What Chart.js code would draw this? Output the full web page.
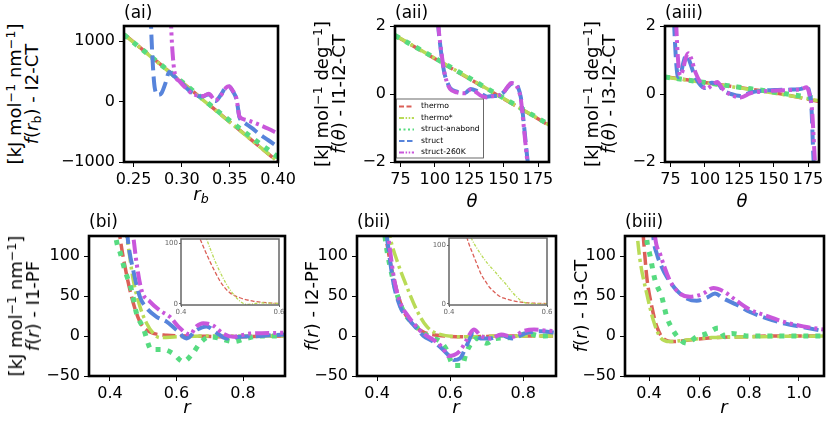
<!DOCTYPE html>
<html>
<head>
<meta charset="utf-8">
<script src="https://cdn.jsdelivr.net/npm/chart.js@4"></script>
<style>
body { margin:0; width:831px; height:421px; background:#fff; position:relative; overflow:hidden; font-family:'DejaVu Sans', sans-serif; }
canvas { position:absolute; }
.t { position:absolute; font-size:17px; line-height:17px; white-space:nowrap; color:#000; z-index:5; }
.ylab { font-size:18px; line-height:17px; transform: translate(-50%,-50%) rotate(-90deg); text-align:center; }
.xlab { font-size:18px; line-height:18px; transform: translateX(-50%); }
sup { font-size:0.7em; vertical-align:0.45em; line-height:0; }
sub { font-size:0.7em; vertical-align:-0.25em; line-height:0; }
</style>
</head>
<body>
<div class="t" style="left:124px;top:4px">(ai)</div>
<div class="t" style="left:395px;top:4px">(aii)</div>
<div class="t" style="left:665px;top:4px">(aiii)</div>
<div class="t" style="left:89px;top:213px">(bi)</div>
<div class="t" style="left:357px;top:213px">(bii)</div>
<div class="t" style="left:625px;top:213px">(biii)</div>

<div class="t ylab" style="left:23px;top:94px">[kJ mol<sup>−1</sup> nm<sup>−1</sup>]<br><i>f</i>(<i>r</i><sub>b</sub>) - I2-CT</div>
<div class="t ylab" style="left:330px;top:94px">[kJ mol<sup>−1</sup> deg<sup>−1</sup>]<br><i>f</i>(<i>θ</i>) - I1-I2-CT</div>
<div class="t ylab" style="left:600px;top:94px">[kJ mol<sup>−1</sup> deg<sup>−1</sup>]<br><i>f</i>(<i>θ</i>) - I3-I2-CT</div>
<div class="t ylab" style="left:24px;top:306px">[kJ mol<sup>−1</sup> nm<sup>−1</sup>]<br><i>f</i>(<i>r</i>) - I1-PF</div>
<div class="t ylab" style="left:311px;top:306px"><i>f</i>(<i>r</i>) - I2-PF</div>
<div class="t ylab" style="left:580px;top:306px"><i>f</i>(<i>r</i>) - I3-CT</div>

<div class="t xlab" style="left:201px;top:185px"><i>r<sub>b</sub></i></div>
<div class="t xlab" style="left:472px;top:192px"><i>θ</i></div>
<div class="t xlab" style="left:742px;top:192px"><i>θ</i></div>
<div class="t xlab" style="left:187px;top:398px"><i>r</i></div>
<div class="t xlab" style="left:456px;top:398px"><i>r</i></div>
<div class="t xlab" style="left:724px;top:398px"><i>r</i></div>

<script>
// ---- (ai) f(r_b) I2-CT ----
const aiX_th = [0.24, 0.30, 0.35, 0.40];
const aiY_th = [1115, 322, -339, -1000];
const aiY_ths = [1110, 318, -342, -996];
const aiY_ana = [1105, 330, -318, -920];
const aiX_st = [0.266, 0.268, 0.270, 0.272, 0.2755, 0.279, 0.283, 0.287, 0.292, 0.298, 0.304, 0.310, 0.317, 0.322, 0.328, 0.335, 0.341, 0.346, 0.349, 0.353, 0.357, 0.360, 0.366, 0.373, 0.380, 0.390, 0.400];
const aiY_st = [2500, 1300, 600, 220, 110, 140, 300, 490, 420, 340, 240, 150, 90, 85, 120, 10, 120, 240, 250, 170, 30, -260, -360, -440, -530, -640, -750];
const aiX_k = [0.287, 0.289, 0.291, 0.293, 0.298, 0.304, 0.310, 0.317, 0.322, 0.328, 0.335, 0.341, 0.346, 0.349, 0.353, 0.357, 0.360, 0.366, 0.373, 0.380, 0.390, 0.400];
const aiY_k = [2500, 1250, 700, 450, 330, 225, 140, 95, 90, 130, 20, 110, 230, 255, 180, 40, -250, -300, -335, -380, -450, -530];

// ---- (aii) f(theta) I1-I2-CT ----
const aiiX_th = [71, 100, 125, 150, 183];
const aiiY_th = [1.72, 1.04, 0.45, -0.14, -0.92];
const aiiY_ths = [1.73, 1.05, 0.46, -0.13, -0.91];
const aiiY_ana = [1.72, 1.06, 0.47, -0.12, -0.90];
const aiiX_st = [100, 102.5, 104, 105.5, 107, 108.5, 111, 116, 122, 126, 130, 134, 138, 142, 146, 150, 153, 155.5, 158, 160.5, 162.5, 164, 165.5, 167, 169];
const aiiY_st = [4, 2.0, 1.4, 0.95, 0.6, 0.4, 0.18, 0.07, 0.03, 0.15, 0.1, 0.0, -0.08, -0.06, -0.04, 0.05, 0.2, 0.3, 0.33, 0.2, -0.1, -0.6, -1.2, -1.8, -2.5];
const aiiY_k = [4, 2.05, 1.45, 1.0, 0.62, 0.38, 0.15, 0.05, 0.02, 0.13, 0.05, -0.06, -0.1, -0.07, -0.05, 0.05, 0.22, 0.32, 0.3, 0.15, -0.15, -0.7, -1.3, -1.9, -2.6];

// ---- (aiii) f(theta) I3-I2-CT ----
const aiiiX_th = [71, 100, 125, 150, 183];
const aiiiY_th = [0.51, 0.34, 0.19, 0.04, -0.22];
const aiiiY_ths = [0.50, 0.33, 0.18, 0.03, -0.20];
const aiiiY_ana = [0.50, 0.34, 0.20, 0.06, -0.14];
const aiiiX_st = [76, 77.5, 79, 80.5, 82.5, 84.5, 86.5, 89, 92, 96, 100, 105, 109, 113, 119, 126, 133, 143, 153, 163, 170, 174, 176, 177.5, 179, 181];
const aiiiY_st = [4, 2.2, 1.0, 0.5, 0.6, 0.95, 1.15, 0.95, 0.6, 0.3, 0.18, 0.33, 0.32, 0.12, 0.0, -0.06, 0.04, 0.1, 0.12, 0.13, 0.15, 0.22, 0.05, -0.4, -1.9, -3];
const aiiiX_k = [77.5, 79, 80.5, 82, 84, 86, 88, 90, 93, 97, 101, 105, 109, 113, 119, 126, 133, 143, 153, 163, 170, 174, 176, 178, 179.5, 181.5];
const aiiiY_k = [4, 2.2, 1.0, 0.55, 0.7, 1.05, 1.2, 1.05, 0.65, 0.32, 0.15, 0.25, 0.35, 0.15, -0.03, -0.1, 0.02, 0.08, 0.1, 0.12, 0.14, 0.2, 0.0, -0.5, -1.6, -3];

// ---- (bi) f(r) I1-PF ----
const biX_th = [0.42, 0.43, 0.445, 0.465, 0.48, 0.495, 0.52, 0.571, 0.65, 0.75, 0.926];
const biY_th = [160, 124, 87, 49, 28, 14, 5, 1, 0, -1, 0];
const biX_ths = [0.445, 0.455, 0.47, 0.49, 0.51, 0.53, 0.55, 0.60, 0.70, 0.926];
const biY_ths = [140, 112, 70, 37, 16, 3.5, -2, -1, 0, 0];
const biX_ana = [0.41, 0.42, 0.43, 0.445, 0.465, 0.48, 0.50, 0.525, 0.56, 0.59, 0.62, 0.65, 0.67, 0.70, 0.73, 0.77, 0.81, 0.85, 0.926];
const biY_ana = [150, 118, 105, 82, 57, 28, 10, -17, -17, -22, -32, -21, -9, -1, -3, -7, -3, 0, 0];
const biX_st = [0.445, 0.455, 0.47, 0.49, 0.51, 0.54, 0.57, 0.60, 0.63, 0.66, 0.69, 0.72, 0.75, 0.79, 0.85, 0.926];
const biY_st = [160, 116, 82, 49, 35, 24, 18, 7.5, -3, 7.5, 12, 4, -3, -1, 0, 2];
const biX_k = [0.46, 0.47, 0.48, 0.495, 0.52, 0.55, 0.58, 0.61, 0.64, 0.66, 0.68, 0.71, 0.74, 0.77, 0.82, 0.926];
const biY_k = [160, 125, 91, 57, 43, 32, 24, 10, 2, 12, 16, 13, 3, -1, 3, 4];
// inset of (bi)
const biInX_th = [0.43, 0.439, 0.45, 0.459, 0.47, 0.48, 0.49, 0.50, 0.52, 0.547, 0.58, 0.60];
const biInY_th = [125, 107, 86, 70, 52, 37, 26, 18, 10, 4.4, 1.5, 0.5];
const biInX_ths = [0.445, 0.451, 0.462, 0.473, 0.483, 0.493, 0.503, 0.512, 0.524, 0.534, 0.547, 0.56, 0.58, 0.60];
const biInY_ths = [125, 110, 86, 64, 47, 32, 20, 11, 2, -1, 0, 1.5, 1, 0.3];

// ---- (bii) f(r) I2-PF ----
const biiX_th = [0.415, 0.424, 0.435, 0.454, 0.472, 0.495, 0.527, 0.565, 0.65, 0.75, 0.89];
const biiY_th = [160, 125, 95, 57, 32, 16, 5, 1, -1, 0, 0];
const biiX_ths = [0.43, 0.435, 0.454, 0.481, 0.509, 0.536, 0.565, 0.65, 0.75, 0.89];
const biiY_ths = [140, 125, 95, 62, 32, 12, 3, -1, 0, 0];
const biiX_ana = [0.418, 0.424, 0.435, 0.45, 0.465, 0.48, 0.50, 0.52, 0.535, 0.555, 0.573, 0.59, 0.61, 0.632, 0.645, 0.66, 0.673, 0.70, 0.725, 0.77, 0.81, 0.85, 0.89];
const biiY_ana = [140, 116, 88, 60, 38, 25, 15, 6, 1, -3, -7, -17, -37, -37, -20, -8, -3, -9, -3, -2, 3, 0, 1];
const biiX_st = [0.42, 0.428, 0.445, 0.463, 0.481, 0.499, 0.515, 0.527, 0.554, 0.58, 0.60, 0.61, 0.627, 0.645, 0.664, 0.683, 0.71, 0.74, 0.77, 0.81, 0.85, 0.89];
const biiY_st = [150, 120, 66, 37, 24, 14, 6, 0, -7, -17, -26, -30, -28, -12, 3, -3, -3, 1, -3, 4, 6, 4];
const biiX_k = [0.425, 0.432, 0.448, 0.465, 0.483, 0.50, 0.515, 0.53, 0.555, 0.58, 0.595, 0.61, 0.628, 0.645, 0.665, 0.685, 0.71, 0.74, 0.77, 0.80, 0.83, 0.86, 0.89];
const biiY_k = [150, 120, 68, 40, 26, 16, 8, 2, -5, -15, -25, -24, -18, -5, 8, 0, -3, 2, -1, 6, 8, 7, 6];
// inset of (bii)
const biiInX_th = [0.433, 0.439, 0.449, 0.458, 0.466, 0.475, 0.483, 0.493, 0.503, 0.515, 0.527, 0.55, 0.578, 0.60];
const biiInY_th = [125, 107, 85, 66, 50, 38, 28, 20, 13, 9, 6, 2.6, 1, 0.5];
const biiInX_ths = [0.44, 0.446, 0.458, 0.47, 0.482, 0.493, 0.505, 0.517, 0.527, 0.537, 0.553, 0.578, 0.60];
const biiInY_ths = [125, 112, 94, 79, 66, 56, 44, 33, 22, 13, 2.6, 0.3, 0];

// ---- (biii) f(r) I3-CT ----
const biiiX_th = [0.37, 0.377, 0.391, 0.411, 0.431, 0.457, 0.497, 0.56, 0.66, 0.78, 0.90, 1.10];
const biiiY_th = [150, 125, 74, 37, 12, -3, -7, -5, -2, -1, 0, 0];
const biiiX_ths = [0.345, 0.353, 0.364, 0.391, 0.417, 0.444, 0.484, 0.55, 0.65, 0.80, 1.10];
const biiiY_ths = [150, 125, 95, 53, 20, -1, -7, -5, -2, -1, 0];
const biiiX_ana = [0.385, 0.391, 0.404, 0.424, 0.451, 0.471, 0.491, 0.517, 0.551, 0.591, 0.631, 0.677, 0.704, 0.731, 0.80, 1.10];
const biiiY_ana = [150, 121, 101, 70, 49, 24, 10, -2, -9, -1, 3, 10, -1, 3, 0, 0];
const biiiX_st = [0.41, 0.417, 0.431, 0.45, 0.471, 0.511, 0.551, 0.591, 0.631, 0.664, 0.697, 0.751, 0.804, 0.871, 0.937, 1.017, 1.10];
const biiiY_st = [165, 125, 103, 87, 74, 57, 47, 44, 48, 53, 47, 39, 30, 22, 16, 11, 6];
const biiiX_k = [0.415, 0.424, 0.444, 0.484, 0.524, 0.564, 0.617, 0.657, 0.697, 0.751, 0.804, 0.871, 0.937, 1.017, 1.10];
const biiiY_k = [165, 125, 103, 69, 53, 49, 53, 60, 56, 44, 33, 25, 18, 12, 8];

// tick values and labels
const aiXTicks = [0.25, 0.30, 0.35, 0.40];
const aiXLabels = ['0.25', '0.30', '0.35', '0.40'];
const aiYTicks = [-1000, 0, 1000];
const aiYLabels = ['−1000', '0', '1000'];
const thetaTicks = [75, 100, 125, 150, 175];
const thetaLabels = ['75', '100', '125', '150', '175'];
const degYTicks = [-2, 0, 2];
const degYLabels = ['−2', '0', '2'];
const rTicks = [0.4, 0.6, 0.8];
const rLabels = ['0.4', '0.6', '0.8'];
const r3Ticks = [0.4, 0.6, 0.8, 1.0];
const r3Labels = ['0.4', '0.6', '0.8', '1.0'];
const fYTicks = [-50, 0, 50, 100];
const fYLabels = ['−50', '0', '50', '100'];
const inXTicks = [0.4, 0.6];
const inXLabels = ['0.4', '0.6'];
const inYTicks = [0, 100];
const inYLabels = ['0', '100'];

const FONT = "'DejaVu Sans', sans-serif";
const STYLE = [
  {label: 'thermo', color: '#db5f57', width: 3.5, dash: [13, 5], lgDash: [5, 2.5]},
  {label: 'thermo*', color: '#b9db57', width: 3.5, dash: [14, 4, 3, 4], lgDash: [5, 1.6, 1.5, 1.6, 1.5, 1.6]},
  {label: 'struct-anabond', color: '#57db80', width: 5, dash: [5, 7], lgDash: [2, 2.5]},
  {label: 'struct', color: '#5784db', width: 4, dash: [15, 6], lgDash: [5.5, 2.5]},
  {label: 'struct-260K', color: '#c957db', width: 4, dash: [14, 4, 3, 4, 3, 4], lgDash: [5, 1.6, 1.5, 1.6, 1.5, 1.6]},
];

function pts(xs, ys) {
  return xs.map((x, i) => ({x: x, y: ys[i]}));
}

// box around the plot area, like matplotlib spines
const framePlugin = {
  id: 'frame',
  beforeDatasetsDraw(chart, args, opts) {
    if (!opts.fill) return;
    const a = chart.chartArea, ctx = chart.ctx;
    ctx.save();
    ctx.fillStyle = opts.fill;
    ctx.fillRect(a.left, a.top, a.right - a.left, a.bottom - a.top);
    ctx.restore();
  },
  afterDraw(chart, args, opts) {
    const a = chart.chartArea, ctx = chart.ctx;
    ctx.save();
    ctx.strokeStyle = opts.color || '#000';
    ctx.lineWidth = opts.width || 2.6;
    ctx.strokeRect(a.left, a.top, a.right - a.left, a.bottom - a.top);
    ctx.restore();
  }
};

// legend drawn inside the plot area of (aii)
const lineLegend = {
  id: 'lineLegend',
  afterDraw(chart, args, opts) {
    if (!opts.show) return;
    const a = chart.chartArea, ctx = chart.ctx;
    ctx.save();
    ctx.fillStyle = 'rgba(255,255,255,0.85)';
    ctx.fillRect(a.left + 1.5, a.top + 73, 87, 59);
    ctx.strokeStyle = '#444';
    ctx.lineWidth = 0.8;
    ctx.strokeRect(a.left + 1.5, a.top + 73, 87, 59);
    ctx.font = '7.7px ' + FONT;
    ctx.textBaseline = 'middle';
    STYLE.forEach((s, i) => {
      const y = a.top + 80.5 + i * 11.5;
      ctx.strokeStyle = s.color;
      ctx.lineWidth = 1.8;
      ctx.setLineDash(s.lgDash);
      ctx.beginPath();
      ctx.moveTo(a.left + 4, y);
      ctx.lineTo(a.left + 19, y);
      ctx.stroke();
      ctx.setLineDash([]);
      ctx.fillStyle = '#000';
      ctx.fillText(s.label, a.left + 26, y);
    });
    ctx.restore();
  }
};

Chart.register(framePlugin, lineLegend);

function axis(min, max, ticks, labels, isX, size, fontSize, color, tickLen, pad) {
  return {
    type: 'linear', min: min, max: max,
    afterFit: function(s) { if (isX) s.height = size; else s.width = size; },
    afterBuildTicks: function(s) { s.ticks = ticks.map(v => ({value: v})); },
    ticks: {
      autoSkip: false, maxRotation: 0, minRotation: 0, padding: pad, color: color,
      font: {family: FONT, size: fontSize},
      callback: function(v, i) { return labels[i]; }
    },
    grid: {drawOnChartArea: false, drawTicks: true, tickLength: tickLen, color: color, lineWidth: 1},
    border: {display: false}
  };
}

function makeChart(box, pad, xs, ys, datasets, plugOpts, small) {
  const c = document.createElement('canvas');
  const w = box.w + pad.l + pad.r, h = box.h + pad.t + pad.b;
  c.width = w; c.height = h;
  c.style.left = (box.x - pad.l) + 'px';
  c.style.top = (box.y - pad.t) + 'px';
  c.style.width = w + 'px';
  c.style.height = h + 'px';
  if (small) c.style.zIndex = 2;
  document.body.appendChild(c);
  return new Chart(c, {
    type: 'line',
    data: {datasets: datasets},
    options: {
      responsive: false, animation: false, events: [],
      layout: {autoPadding: false, padding: {left: 0, top: pad.t, right: pad.r, bottom: 0}},
      scales: {x: xs, y: ys},
      plugins: Object.assign({legend: {display: false}, tooltip: {enabled: false}}, plugOpts)
    }
  });
}

function mainSets(series) {
  return series.map((s, i) => ({
    label: STYLE[i].label,
    data: pts(s[0], s[1]),
    borderColor: STYLE[i].color,
    borderWidth: STYLE[i].width,
    borderDash: STYLE[i].dash,
    borderCapStyle: 'butt',
    pointRadius: 0,
    fill: false,
    cubicInterpolationMode: 'monotone',
    clip: 0,
    order: 5 - i
  }));
}

function insetSets(series) {
  const dashes = [[4, 2], [3, 1.5, 1, 1.5]];
  return series.map((s, i) => ({
    label: STYLE[i].label,
    data: pts(s[0], s[1]),
    borderColor: STYLE[i].color,
    borderWidth: 1.3,
    borderDash: dashes[i],
    pointRadius: 0,
    fill: false,
    cubicInterpolationMode: 'monotone',
    clip: 0,
    order: 5 - i
  }));
}

const P = {l: 70, t: 14, r: 28, b: 34};
const PI = {l: 24, t: 8, r: 14, b: 14};
const frameMain = {frame: {color: '#000', width: 2.6}};

function mainAxes(xmin, xmax, xt, xl, ymin, ymax, yt, yl) {
  return [axis(xmin, xmax, xt, xl, true, P.b, 16, '#000', 5, 3),
          axis(ymin, ymax, yt, yl, false, P.l, 16, '#000', 5, 4)];
}

let ax;
ax = mainAxes(0.24, 0.40, aiXTicks, aiXLabels, -1000, 1250, aiYTicks, aiYLabels);
makeChart({x: 124, y: 26, w: 154, h: 136}, P, ax[0], ax[1], mainSets([
  [aiX_th, aiY_th], [aiX_th, aiY_ths], [aiX_th, aiY_ana], [aiX_st, aiY_st], [aiX_k, aiY_k]
]), frameMain);

ax = mainAxes(71, 183, thetaTicks, thetaLabels, -2, 2, degYTicks, degYLabels);
makeChart({x: 395, y: 26, w: 154, h: 136}, P, ax[0], ax[1], mainSets([
  [aiiX_th, aiiY_th], [aiiX_th, aiiY_ths], [aiiX_th, aiiY_ana], [aiiX_st, aiiY_st], [aiiX_st, aiiY_k]
]), {frame: {color: '#000', width: 2.6}, lineLegend: {show: true}});

ax = mainAxes(71, 183, thetaTicks, thetaLabels, -2, 2, degYTicks, degYLabels);
makeChart({x: 665, y: 26, w: 154, h: 136}, P, ax[0], ax[1], mainSets([
  [aiiiX_th, aiiiY_th], [aiiiX_th, aiiiY_ths], [aiiiX_th, aiiiY_ana], [aiiiX_st, aiiiY_st], [aiiiX_k, aiiiY_k]
]), frameMain);

ax = mainAxes(0.337, 0.926, rTicks, rLabels, -50, 125, fYTicks, fYLabels);
makeChart({x: 89, y: 236, w: 196, h: 140}, P, ax[0], ax[1], mainSets([
  [biX_th, biY_th], [biX_ths, biY_ths], [biX_ana, biY_ana], [biX_st, biY_st], [biX_k, biY_k]
]), frameMain);

ax = mainAxes(0.345, 0.89, rTicks, rLabels, -50, 125, fYTicks, fYLabels);
makeChart({x: 357, y: 236, w: 199, h: 140}, P, ax[0], ax[1], mainSets([
  [biiX_th, biiY_th], [biiX_ths, biiY_ths], [biiX_ana, biiY_ana], [biiX_st, biiY_st], [biiX_k, biiY_k]
]), frameMain);

ax = mainAxes(0.304, 1.10, r3Ticks, r3Labels, -50, 125, fYTicks, fYLabels);
makeChart({x: 625, y: 236, w: 199, h: 140}, P, ax[0], ax[1], mainSets([
  [biiiX_th, biiiY_th], [biiiX_ths, biiiY_ths], [biiiX_ana, biiiY_ana], [biiiX_st, biiiY_st], [biiiX_k, biiiY_k]
]), frameMain);

// insets
const frameInset = {frame: {color: '#666', width: 1.5, fill: '#fff'}};
makeChart({x: 181, y: 239, w: 98, h: 66}, PI,
  axis(0.4, 0.6, inXTicks, inXLabels, true, PI.b, 7, '#666', 2, 1),
  axis(-2, 107, inYTicks, inYLabels, false, PI.l, 7, '#666', 2, 1),
  insetSets([[biInX_th, biInY_th], [biInX_ths, biInY_ths]]), frameInset, true);

makeChart({x: 449, y: 238, w: 98, h: 67}, PI,
  axis(0.4, 0.6, inXTicks, inXLabels, true, PI.b, 7, '#666', 2, 1),
  axis(-2, 113, inYTicks, inYLabels, false, PI.l, 7, '#666', 2, 1),
  insetSets([[biiInX_th, biiInY_th], [biiInX_ths, biiInY_ths]]), frameInset, true);
</script>
</body>
</html>
